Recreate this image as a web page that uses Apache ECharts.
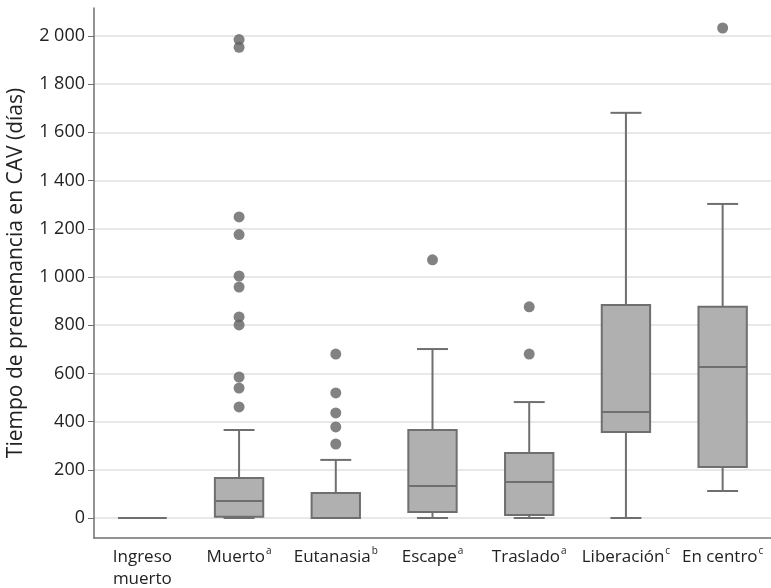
<!DOCTYPE html>
<html>
<head>
<meta charset="utf-8">
<script src="https://cdn.jsdelivr.net/npm/echarts@6/dist/echarts.min.js"></script>
<style>html,body{margin:0;padding:0;background:#fff}#c{width:771px;height:588px}</style>
</head>
<body>
<div id="c"></div>
<script>
// ---- data ----
var categories = ['Ingreso\nmuerto', 'Muerto', 'Eutanasia', 'Escape', 'Traslado', 'Liberación', 'En centro'];
var superscripts = ['', 'a', 'b', 'a', 'a', 'c', 'c'];
// [min, Q1, median, Q3, max]
var boxIngreso = [0, 0, 0, 0, 0];
var boxMuerto = [0, 5, 71, 166, 365];
var boxEutanasia = [0, 0, 0, 104, 241];
var boxEscape = [0, 25, 133, 365, 701];
var boxTraslado = [0, 12, 149, 270, 481];
var boxLiberacion = [0, 357, 440, 884, 1681];
var boxEnCentro = [112, 212, 627, 876, 1303];
var outMuerto = [1985, 1953, 1249, 1176, 1004, 958, 834, 801, 585, 539, 461];
var outEutanasia = [680, 519, 436, 378, 307];
var outEscape = [1071];
var outTraslado = [876, 680];
var outEnCentro = [2033];
var yTicks = [0, 200, 400, 600, 800, 1000, 1200, 1400, 1600, 1800, 2000];

var boxes = [boxIngreso, boxMuerto, boxEutanasia, boxEscape, boxTraslado, boxLiberacion, boxEnCentro];
var boxRows = boxes.map(function (b, i) { return [i].concat(b); });
var outliersByCat = [[], outMuerto, outEutanasia, outEscape, outTraslado, [], outEnCentro];
var outlierPts = [];
outliersByCat.forEach(function (arr, i) { arr.forEach(function (v) { outlierPts.push([i, v]); }); });

var chart = echarts.init(document.getElementById('c'));
var FONT = "'Open Sans', sans-serif";
var STROKE = '#6f6f6f';

function renderBox(params, api) {
  var x = api.value(0);
  var mn = api.value(1), q1 = api.value(2), md = api.value(3), q3 = api.value(4), mx = api.value(5);
  var bw = api.size([1, 0])[0] * 0.5;
  var cw = bw * 0.64;
  var pMin = api.coord([x, mn]), pQ1 = api.coord([x, q1]), pMd = api.coord([x, md]),
      pQ3 = api.coord([x, q3]), pMax = api.coord([x, mx]);
  var cx = pMin[0];
  var ls = { stroke: STROKE, lineWidth: 2, fill: null };
  var children = [];
  if (mx > q3) {
    children.push({ type: 'line', shape: { x1: cx, y1: pQ3[1], x2: cx, y2: pMax[1] }, style: ls });
    children.push({ type: 'line', shape: { x1: cx - cw / 2, y1: pMax[1], x2: cx + cw / 2, y2: pMax[1] }, style: ls });
  }
  if (mn < q1) {
    children.push({ type: 'line', shape: { x1: cx, y1: pQ1[1], x2: cx, y2: pMin[1] }, style: ls });
    children.push({ type: 'line', shape: { x1: cx - cw / 2, y1: pMin[1], x2: cx + cw / 2, y2: pMin[1] }, style: ls });
  } else if (mn === q1 && q1 !== q3) {
    children.push({ type: 'line', shape: { x1: cx - cw / 2, y1: pMin[1], x2: cx + cw / 2, y2: pMin[1] }, style: ls });
  }
  children.push({ type: 'rect', shape: { x: cx - bw / 2, y: pQ3[1], width: bw, height: pQ1[1] - pQ3[1] },
    style: { fill: '#b0b0b0', stroke: STROKE, lineWidth: 2 } });
  children.push({ type: 'line', shape: { x1: cx - bw / 2, y1: pMd[1], x2: cx + bw / 2, y2: pMd[1] }, style: ls });
  return { type: 'group', children: children };
}

var rich = {
  n: { fontFamily: FONT, fontSize: 17, color: '#222', lineHeight: 22 },
  s: { fontFamily: FONT, fontSize: 10, color: '#222', verticalAlign: 'top', padding: [0, 0, 6, 1] }
};

chart.setOption({
  animation: false,
  grid: { left: 94, right: 0, top: 8, bottom: 50, containLabel: false, outerBoundsMode: 'none' },
  xAxis: {
    type: 'category',
    data: categories,
    boundaryGap: true,
    axisLine: { onZero: false, lineStyle: { color: STROKE, width: 1.5 } },
    axisTick: { show: false },
    axisLabel: {
      margin: 8,
      interval: 0,
      formatter: function (v, i) {
        var s = superscripts[i];
        var lines = v.split('\n').map(function (t) { return '{n|' + t + '}'; });
        if (s) lines[0] += '{s|' + s + '}';
        return lines.join('\n');
      },
      rich: rich
    }
  },
  yAxis: {
    type: 'value',
    min: -83,
    max: 2116,
    name: 'Tiempo de premenancia en CAV (días)',
    nameLocation: 'middle',
    nameGap: 67,
    nameTextStyle: { fontFamily: FONT, fontSize: 21, color: '#222' },
    axisLine: { show: true, lineStyle: { color: STROKE, width: 1.5 } },
    axisTick: { show: true, length: 6, customValues: yTicks, lineStyle: { color: STROKE } },
    axisLabel: {
      customValues: yTicks,
      fontFamily: FONT,
      fontSize: 18,
      color: '#222',
      margin: 9,
      formatter: function (v) { return String(v).replace(/\B(?=(\d{3})+(?!\d))/g, ' '); }
    },
    splitLine: { show: true, lineStyle: { color: '#e8e8e8', width: 2 } }
  },
  series: [
    {
      type: 'custom',
      renderItem: renderBox,
      data: boxRows,
      encode: { x: 0, y: [1, 2, 3, 4, 5] },
      z: 2
    },
    {
      type: 'scatter',
      data: outlierPts,
      symbolSize: 11,
      itemStyle: { color: '#636363' },
      z: 3
    }
  ]
});
</script>
</body>
</html>
